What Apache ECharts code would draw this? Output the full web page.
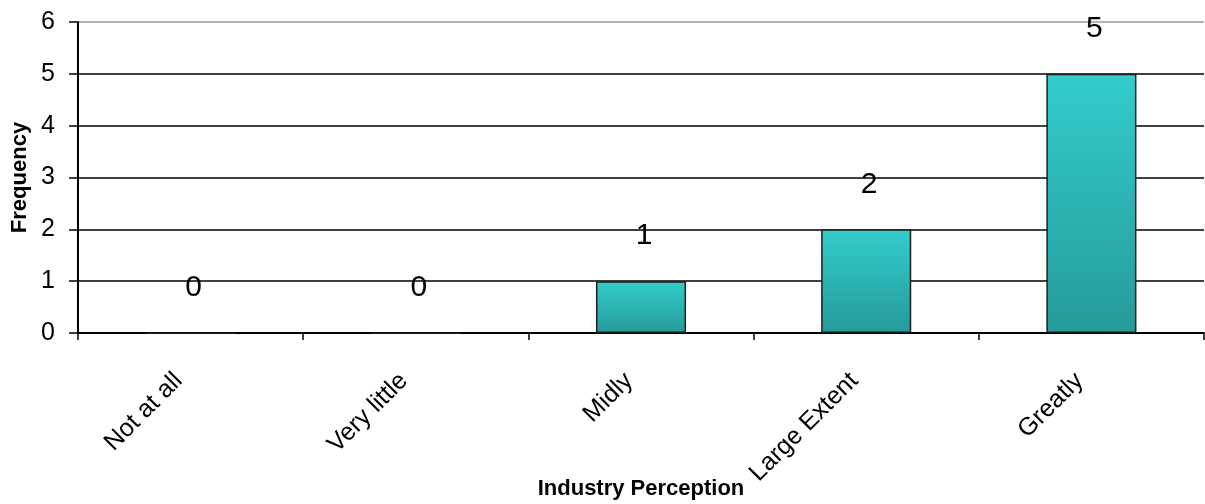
<!DOCTYPE html>
<html>
<head>
<meta charset="utf-8">
<style>
  html, body { margin: 0; padding: 0; background: #fff; }
  #chart { width: 1205px; height: 504px; }
</style>
<script src="https://cdn.jsdelivr.net/npm/echarts@6/dist/echarts.min.js"></script>
</head>
<body>
<div id="chart"></div>
<script>
// Survey responses: how strongly each perception level was reported
const categories = ['Not at all', 'Very little', 'Midly', 'Large Extent', 'Greatly'];
const frequency = [0, 0, 1, 2, 5];
const yTicks = [0, 1, 2, 3, 4, 5, 6];

const FONT = '"Liberation Sans", Arial, sans-serif';

const chart = echarts.init(document.getElementById('chart'), null, { renderer: 'canvas' });

chart.setOption({
  animation: false,
  backgroundColor: '#ffffff',
  grid: { left: 78, right: 1, top: 22, bottom: 171, containLabel: false, outerBoundsMode: 'none' },
  xAxis: {
    type: 'category',
    data: categories,
    boundaryGap: true,
    name: 'Industry Perception',
    nameLocation: 'middle',
    nameGap: 145,
    nameMoveOverlap: false,
    nameTextStyle: { fontFamily: FONT, fontSize: 22, fontWeight: 'bold', color: '#000' },
    axisLine: { lineStyle: { color: '#000', width: 2 } },
    axisTick: { show: true, length: 7, lineStyle: { color: '#000', width: 1.5 }, alignWithLabel: false },
    axisLabel: {
      rotate: 45,
      margin: 32,
      padding: [0, 17, 0, 0],
      interval: 0,
      fontFamily: FONT,
      fontSize: 25,
      color: '#000'
    },
    splitLine: { show: false }
  },
  yAxis: {
    type: 'value',
    min: yTicks[0],
    max: yTicks[yTicks.length - 1],
    interval: 1,
    name: 'Frequency',
    nameLocation: 'middle',
    nameGap: 47,
    nameRotate: 90,
    nameMoveOverlap: false,
    nameTextStyle: { fontFamily: FONT, fontSize: 22, fontWeight: 'bold', color: '#000' },
    axisLine: { show: true, lineStyle: { color: '#000', width: 2 } },
    axisTick: { show: true, length: 9, lineStyle: { color: '#000', width: 1.5 } },
    axisLabel: {
      margin: 23,
      fontFamily: FONT,
      fontSize: 25,
      color: '#000'
    },
    splitLine: {
      show: true,
      lineStyle: { color: ['#000', '#000', '#000', '#000', '#000', '#000', '#9a9a9a'], width: 1.6 }
    }
  },
  series: [{
    type: 'bar',
    data: frequency,
    barWidth: '40%',
    itemStyle: {
      color: new echarts.graphic.LinearGradient(0, 0, 0, 1, [
        { offset: 0, color: '#33cccc' },
        { offset: 1, color: '#269a9a' }
      ]),
      borderColor: '#1e1e1e',
      borderWidth: 1.5
    },
    label: {
      show: true,
      position: 'top',
      distance: 30,
      offset: [3, 0],
      fontFamily: FONT,
      fontSize: 30,
      color: '#000'
    }
  }]
});
</script>
</body>
</html>
